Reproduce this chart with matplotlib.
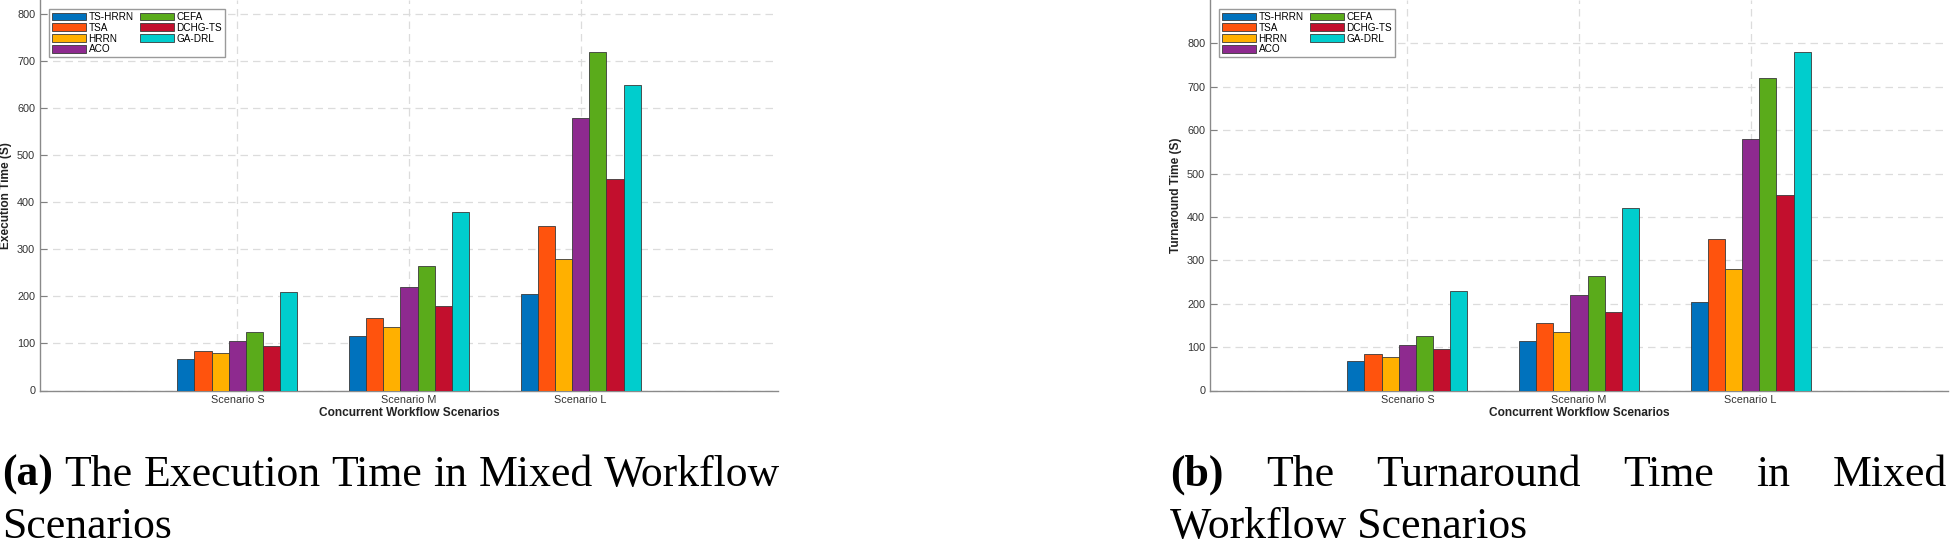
import numpy as np
import matplotlib.pyplot as plt

# data
scenarios = ['Scenario S', 'Scenario M', 'Scenario L']
methods = ['TS-HRRN', 'TSA', 'HRRN', 'ACO', 'CEFA', 'DCHG-TS', 'GA-DRL']
colors = ['#0072BD', '#FF530D', '#FFB000', '#8E2A8F', '#5AAB1B', '#C20F2D', '#00CDCD']

# one row per method, one column per scenario
exec_time = [
    [68, 115, 205],
    [85, 155, 350],
    [79, 135, 280],
    [105, 220, 580],
    [125, 265, 720],
    [95, 180, 450],
    [210, 380, 650],
]
turnaround_time = [
    [68, 115, 205],
    [85, 155, 350],
    [78, 135, 280],
    [105, 220, 580],
    [125, 265, 720],
    [95, 180, 450],
    [230, 420, 780],
]
y_ticks = [0, 100, 200, 300, 400, 500, 600, 700, 800]

W, H = 1950, 545
fig = plt.figure(figsize=(W / 100, H / 100), dpi=100)

SANS = 'Liberation Sans'
SERIF = 'Liberation Serif'


def draw_chart(left_px, right_px, ymax, values, ylabel):
    ax = fig.add_axes([left_px / W, 1 - 390.5 / H, (right_px - left_px) / W, 390.5 / H])
    x = np.arange(1, len(scenarios) + 1)
    bw = 0.1
    for i, (m, c) in enumerate(zip(methods, colors)):
        off = (i - (len(methods) - 1) / 2) * bw
        ax.bar(x + off, values[i], width=bw, color=c, edgecolor='#3a3a3a',
               linewidth=0.6, label=m, zorder=3)
    ax.set_xlim(-0.15, 4.15)
    ax.set_ylim(0, ymax)
    ax.set_xticks(x)
    ax.set_xticklabels(scenarios, fontsize=7.8, family=SANS, color='#333333')
    ax.set_yticks(y_ticks)
    ax.set_yticklabels([str(v) for v in y_ticks], fontsize=7.8, family=SANS, color='#333333')
    ax.tick_params(axis='x', length=0, pad=3.5)
    ax.tick_params(axis='y', direction='in', length=5, width=0.8, color='#808080', pad=3.5)
    ax.grid(True, linestyle=(0, (6, 4)), color='#dcdcdc', linewidth=0.9, zorder=0)
    ax.set_axisbelow(True)
    for s in ['top', 'right']:
        ax.spines[s].set_visible(False)
    for s in ['left', 'bottom']:
        ax.spines[s].set_color('#8a8a8a')
        ax.spines[s].set_linewidth(1.0)
    ax.set_xlabel('Concurrent Workflow Scenarios', fontsize=8.6, family=SANS,
                  fontweight='bold', color='#222222', labelpad=1)
    ax.set_ylabel(ylabel, fontsize=8.6, family=SANS, fontweight='bold', color='#222222')
    ax.yaxis.set_label_coords(-34 / (right_px - left_px), 0.5)
    ax.yaxis.label.set_verticalalignment('center')
    leg = ax.legend(loc='upper left', ncol=2, prop={'family': SANS, 'size': 7.2},
                    handlelength=3.4, handleheight=0.8, handletextpad=0.25,
                    columnspacing=0.6, labelspacing=0.08, borderpad=0.3,
                    borderaxespad=0.9, fancybox=False, framealpha=1)
    leg.get_frame().set_edgecolor('#9a9a9a')
    leg.get_frame().set_linewidth(1.0)
    return ax


draw_chart(40, 778, 830, exec_time, 'Execution Time (S)')
draw_chart(1210, 1948, 900, turnaround_time, 'Turnaround Time (S)')

# captions (justified first line, like the LaTeX subcaption)
CAP = 31.5
renderer = fig.canvas.get_renderer()


def justify(words, x0, x1, base):
    texts = []
    for w, bold in words:
        t = fig.text(0, 1 - base / H, w, fontsize=CAP, family=SERIF,
                     fontweight='bold' if bold else 'normal', va='baseline', ha='left')
        texts.append(t)
    widths = [t.get_window_extent(renderer).width for t in texts]
    gap = (x1 - x0 - sum(widths)) / (len(texts) - 1)
    xpos = x0
    for t, wd in zip(texts, widths):
        t.set_x(xpos / W)
        xpos += wd + gap


justify([('(a)', True), ('The', False), ('Execution', False), ('Time', False),
         ('in', False), ('Mixed', False), ('Workflow', False)], 2, 780, 486)
fig.text(2 / W, 1 - 538 / H, 'Scenarios', fontsize=CAP, family=SERIF, va='baseline')

justify([('(b)', True), ('The', False), ('Turnaround', False), ('Time', False),
         ('in', False), ('Mixed', False)], 1170, 1947, 486)
fig.text(1170 / W, 1 - 538 / H, 'Workflow Scenarios', fontsize=CAP, family=SERIF, va='baseline')

fig.savefig('out.png', dpi=100)
